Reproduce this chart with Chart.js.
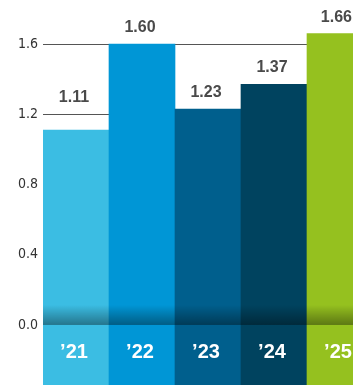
<!DOCTYPE html>
<html>
<head>
<meta charset="utf-8">
<script src="https://cdn.jsdelivr.net/npm/chart.js@4"></script>
<style>
  html, body { margin: 0; padding: 0; background: #fff; overflow: hidden; }
  #wrap { width: 373px; height: 385px; }
</style>
</head>
<body>
<div id="wrap"><canvas id="chart"></canvas></div>
<script>
// Chart data
const years = ["\u201921", "\u201922", "\u201923", "\u201924", "\u201925"];
const values = [1.11, 1.60, 1.23, 1.37, 1.66];
const barColors = ["#3bbde3", "#0096d6", "#005f8d", "#00435f", "#95c11f"];
const yTicks = [0, 0.4, 0.8, 1.2, 1.6];

const yMin = -0.342;
const yMax = 1.851;

// shadow above the zero line + year labels in the band under it
const bandPlugin = {
  id: "band",
  afterDatasetsDraw(chart) {
    const ctx = chart.ctx;
    const y = chart.scales.y;
    const zero = y.getPixelForValue(0);
    const meta = chart.getDatasetMeta(0);

    meta.data.forEach((bar, i) => {
      const left = bar.x - bar.width / 2;
      const grad = ctx.createLinearGradient(0, zero - 20, 0, zero);
      grad.addColorStop(0, "rgba(0,0,0,0)");
      grad.addColorStop(1, "rgba(0,0,0,0.38)");
      ctx.save();
      ctx.fillStyle = grad;
      ctx.fillRect(left, zero - 20, bar.width, 20);

      ctx.fillStyle = "#ffffff";
      ctx.font = "bold 20px 'Liberation Sans', Arial, sans-serif";
      ctx.textAlign = "center";
      ctx.textBaseline = "middle";
      ctx.fillText(years[i], bar.x - 2, zero + 28);
      ctx.restore();
    });

    // value labels above bars, kept clear of the grid lines and the page edge
    const visibleRight = window.innerWidth || 353;
    ctx.save();
    ctx.font = "bold 16px 'Liberation Sans', Arial, sans-serif";
    ctx.fillStyle = "#4a4a4a";
    ctx.textAlign = "center";
    ctx.textBaseline = "alphabetic";
    meta.data.forEach((bar, i) => {
      const text = values[i].toFixed(2);
      const half = ctx.measureText(text).width / 2;
      const gap = 12;
      let bottom = bar.y - gap;
      const top = bottom - 13;
      yTicks.forEach(t => {
        const gy = y.getPixelForValue(t);
        if (gy > top - 1 && gy < bottom + 1 && gy < bar.y - 2) bottom = gy - gap;
      });
      const x = Math.min(bar.x - 2, visibleRight - 1 - half);
      ctx.fillText(text, x, bottom);
    });
    ctx.restore();
  }
};

new Chart(document.getElementById("chart"), {
  type: "bar",
  data: {
    labels: years,
    datasets: [{
      data: values,
      base: yMin,
      backgroundColor: barColors,
      borderWidth: 0,
      barPercentage: 1,
      categoryPercentage: 1
    }]
  },
  options: {
    responsive: true,
    maintainAspectRatio: false,
    animation: false,
    layout: { padding: 0 },
    plugins: {
      legend: { display: false },
      tooltip: { enabled: false }
    },
    scales: {
      x: {
        display: false
      },
      y: {
        min: yMin,
        max: yMax,
        afterBuildTicks: scale => {
          scale.ticks = yTicks.map(v => ({ value: v }));
        },
        afterFit: scale => {
          scale.width = 43;
          scale.paddingTop = 0;
          scale.paddingBottom = 0;
        },
        border: { display: false },
        grid: {
          color: "#555",
          lineWidth: 1,
          drawTicks: false
        },
        ticks: {
          padding: 5,
          color: "#333",
          font: { family: "'Liberation Sans Narrow', 'DejaVu Sans Condensed', sans-serif", size: 14 },
          callback: v => Number(v).toFixed(1)
        }
      }
    }
  },
  plugins: [bandPlugin]
});
</script>
</body>
</html>
